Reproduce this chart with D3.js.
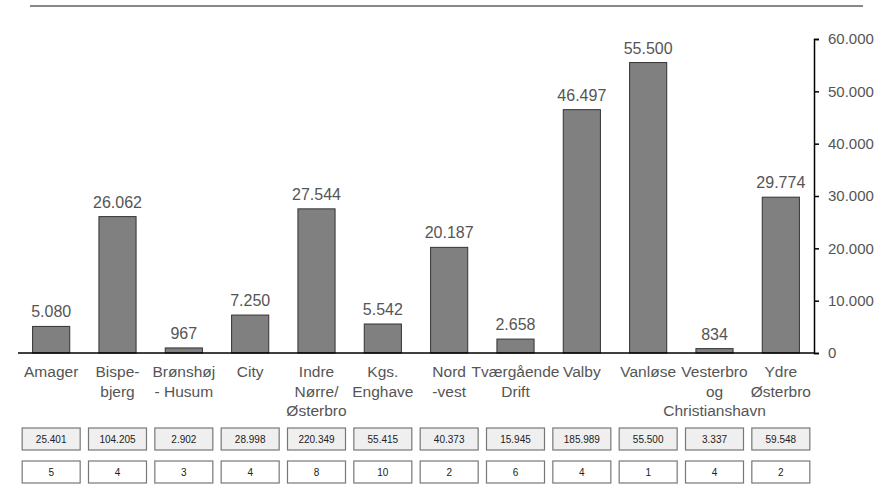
<!DOCTYPE html>
<html><head><meta charset="utf-8">
<script src="https://cdn.jsdelivr.net/npm/d3@7"></script>
<style>body{margin:0;background:#fff}svg{display:block}</style>
</head><body>
<script>
const categories = ["Amager","Bispe-|bjerg","Brønshøj|- Husum","City","Indre|Nørre/|Østerbro","Kgs.|Enghave","Nord|-vest","Tværgående|Drift","Valby","Vanløse","Vesterbro|og|Christianshavn","Ydre|Østerbro"];
const values = [5080,26062,967,7250,27544,5542,20187,2658,46497,55500,834,29774];
const row1 = [25401,104205,2902,28998,220349,55415,40373,15945,185989,55500,3337,59548];
const row2 = [5,4,3,4,8,10,2,6,4,1,4,2];
const yTicks = [0,10000,20000,30000,40000,50000,60000];

const W=880,H=486;
const loc = d3.formatLocale({decimal:",",thousands:".",grouping:[3],currency:["",""]});
const fmt = loc.format(",d");
const svg = d3.select("body").append("svg").attr("width",W).attr("height",H);
const font = "Liberation Sans, Arial, sans-serif";

svg.append("line").attr("x1",30).attr("x2",863).attr("y1",6).attr("y2",6)
  .attr("stroke","#888").attr("stroke-width",2);

const x = d3.scaleBand().domain(d3.range(categories.length)).range([18,814]).paddingInner(0.44).paddingOuter(0.22);
const y = d3.scaleLinear().domain([0,60000]).range([353,39]);

svg.selectAll("rect.bar").data(values).join("rect").attr("class","bar")
  .attr("x",(d,i)=>x(i)).attr("width",x.bandwidth())
  .attr("y",d=>y(d)).attr("height",d=>y(0)-y(d))
  .attr("fill","#808080").attr("stroke","#333").attr("stroke-width",1);

svg.selectAll("text.val").data(values).join("text").attr("class","val")
  .attr("x",(d,i)=>x(i)+x.bandwidth()/2).attr("y",d=>y(d)-9)
  .attr("text-anchor","middle").attr("font-family",font).attr("font-size",16).attr("fill","#555")
  .text(d=>fmt(d));

// baseline
svg.append("line").attr("x1",18).attr("x2",814).attr("y1",y(0)).attr("y2",y(0)).attr("stroke","#000").attr("stroke-width",1.5);

const ax = svg.append("g").attr("transform","translate(814,0)")
  .call(d3.axisRight(y).tickValues(yTicks).tickSize(5).tickPadding(9).tickFormat(d=>fmt(d)));
ax.select(".domain").attr("stroke","#000").attr("stroke-width",1.5);
ax.selectAll(".tick line").attr("stroke","#000").attr("stroke-width",1.5);
ax.selectAll("text").attr("font-family",font).attr("font-size",15).attr("fill","#555");

// category labels
const cl = svg.selectAll("text.cat").data(categories).join("text").attr("class","cat")
  .attr("text-anchor","middle").attr("font-family",font).attr("font-size",15.5).attr("fill","#555");
cl.each(function(d,i){
  const t=d3.select(this);
  d.split("|").forEach((s,j)=>{
    t.append("tspan").attr("x",x(i)+x.bandwidth()/2).attr("y",377+j*19.5).text(s);
  });
});

const bw=58;
function boxRow(data,top,h,fill,cls){
  const g=svg.selectAll("g."+cls).data(data).join("g").attr("class",cls)
    .attr("transform",(d,i)=>`translate(${x(i)+x.bandwidth()/2},${top})`);
  g.append("rect").attr("x",-bw/2).attr("y",0).attr("width",bw).attr("height",h)
    .attr("fill",fill).attr("stroke","#777").attr("stroke-width",1.2);
  g.append("text").attr("y",h/2+4).attr("text-anchor","middle").attr("font-family",font)
    .attr("font-size",10).attr("fill","#222").text(d=>fmt(d));
}
boxRow(row1,428,22,"#efefef","r1");
boxRow(row2,461,22,"#fff","r2");
</script>
</body></html>
